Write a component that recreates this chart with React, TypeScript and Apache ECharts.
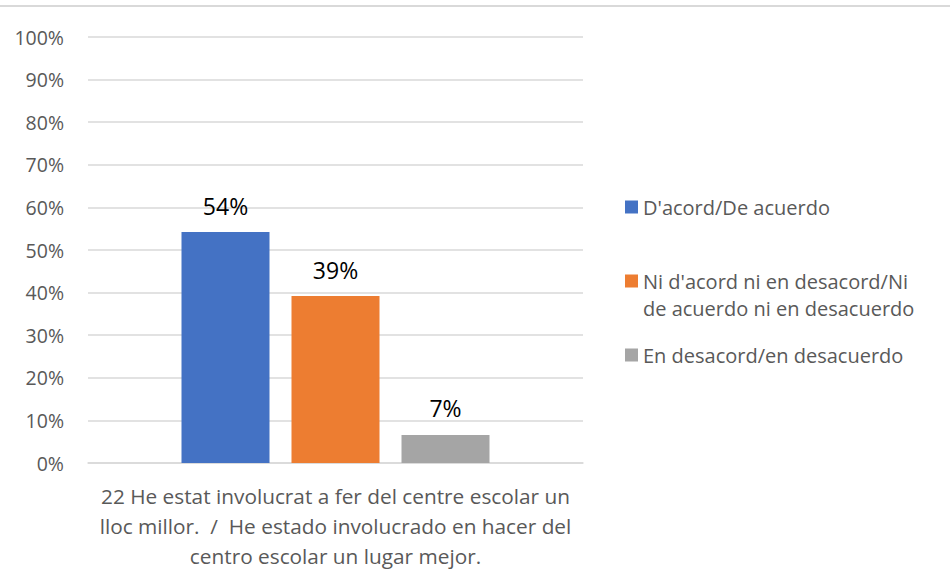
import React, { useEffect, useRef } from "react";
import * as echarts from "echarts";

const CATEGORY_LINES = [
  "22 He estat involucrat a fer del centre escolar un",
  "lloc millor.  /  He estado involucrado en hacer del",
  "centro escolar un lugar mejor.",
];
const CATEGORY = CATEGORY_LINES.join(" ");
const SERIES_NAMES = [
  "D'acord/De acuerdo",
  "Ni d'acord ni en desacord/Ni de acuerdo ni en desacuerdo",
  "En desacord/en desacuerdo",
];
const LEGEND_LINES = [
  ["D'acord/De acuerdo"],
  ["Ni d'acord ni en desacord/Ni", "de acuerdo ni en desacuerdo"],
  ["En desacord/en desacuerdo"],
];
const SERIES_VALUES = [54.2, 39.2, 6.6];
const SERIES_COLORS = ["#4472C4", "#ED7D31", "#A5A5A5"];
const Y_TICKS = [0, 10, 20, 30, 40, 50, 60, 70, 80, 90, 100];

const FONT = "'Open Sans', sans-serif";
const TEXT_COLOR = "#595959";

export default function App() {
  const ref = useRef<HTMLDivElement>(null);
  useEffect(() => {
    document.body.style.margin = "0";
    if (!ref.current) return;
    const chart = echarts.init(ref.current, undefined, { renderer: "svg" });
    const LH = 27;
    const legendTops = [207 - LH / 2, 281 - (LH * 3) / 2, 355 - LH / 2];
    chart.setOption({
      animation: false,
      textStyle: { fontFamily: FONT },
      graphic: [
        {
          type: "rect",
          shape: { x: 0, y: 5, width: 950, height: 2 },
          style: { fill: "#D9D9D9" },
        },
      ],
      grid: { left: 88, right: 367, top: 37, bottom: 112 },
      legend: SERIES_NAMES.map((n, i) => ({
        data: [n],
        orient: "vertical",
        left: 625,
        top: legendTops[i],
        padding: 0,
        icon: "rect",
        itemWidth: 13,
        itemHeight: 13,
        selectedMode: false,
        formatter: () =>
          LEGEND_LINES[i].length > 1 ? "\n" + LEGEND_LINES[i].join("\n") : LEGEND_LINES[i][0],
        textStyle: {
          fontFamily: FONT,
          fontSize: 20,
          color: TEXT_COLOR,
          lineHeight: LH,
        },
      })),
      xAxis: {
        type: "category",
        data: [CATEGORY],
        axisLine: { show: true, lineStyle: { color: "#D9D9D9", width: 1.5 } },
        axisTick: { show: false },
        axisLabel: {
          margin: 18,
          fontFamily: FONT,
          fontSize: 20.8,
          color: TEXT_COLOR,
          lineHeight: 30,
          formatter: () => CATEGORY_LINES.join("\n"),
        },
      },
      yAxis: {
        type: "value",
        min: 0,
        max: 100,
        interval: 10,
        axisLine: { show: false },
        axisTick: { show: false },
        splitLine: { lineStyle: { color: "#D9D9D9", width: 1.5 } },
        axisLabel: {
          margin: 24,
          fontFamily: FONT,
          fontSize: 19.5,
          color: TEXT_COLOR,
          formatter: (v: number) => (Y_TICKS.includes(v) ? `${v}%` : ""),
        },
      },
      series: SERIES_NAMES.map((n, i) => ({
        name: n,
        type: "bar",
        data: [SERIES_VALUES[i]],
        barWidth: 88,
        barGap: "25%",
        itemStyle: { color: SERIES_COLORS[i] },
        label: {
          show: true,
          position: "top",
          distance: 15,
          fontFamily: FONT,
          fontSize: 23,
          color: "#000",
          formatter: (p: any) => `${Math.round(p.value)}%`,
        },
      })),
    });
    return () => chart.dispose();
  }, []);
  return <div ref={ref} style={{ width: 950, height: 575 }} />;
}
